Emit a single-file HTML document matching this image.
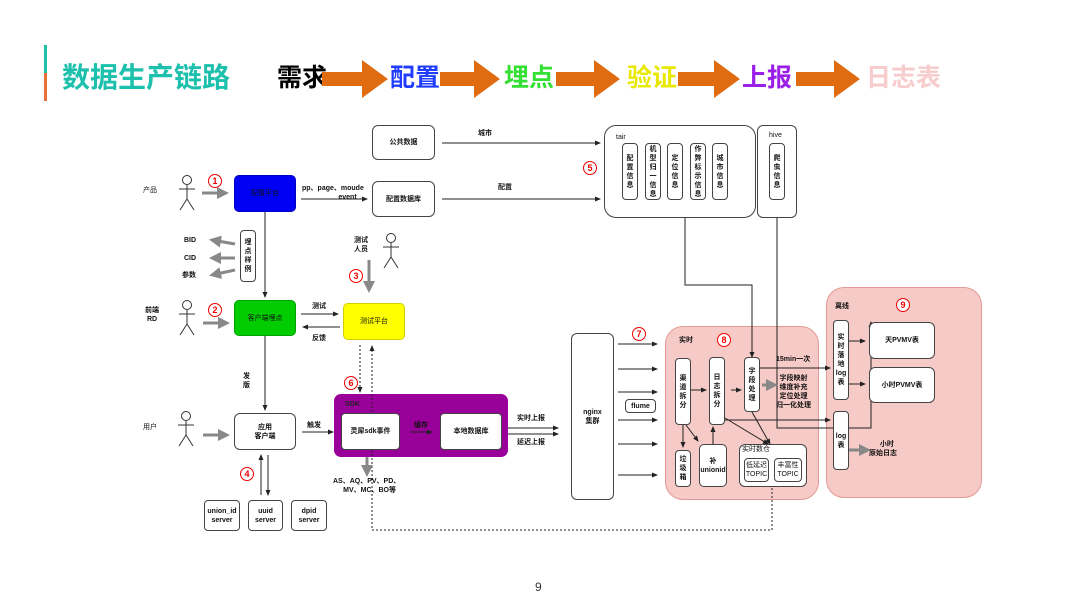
<!DOCTYPE html>
<html><head><meta charset="utf-8"><style>
body{margin:0;width:1080px;height:608px;background:#fff;position:relative;overflow:hidden;font-family:"Liberation Sans","Noto Sans CJK SC",sans-serif;}
.a{position:absolute}
.b{position:absolute;border:1px solid #444;border-radius:4px;background:#fff;display:flex;align-items:center;justify-content:center;text-align:center;font-size:7px;line-height:9px;color:#111;box-sizing:border-box;font-weight:bold}
.v{flex-direction:column;padding:0 1px}
.t{position:absolute;font-size:7px;line-height:9px;color:#111;font-weight:bold;text-align:center;white-space:nowrap}
.n{position:absolute;width:12px;height:12px;border:1.5px solid #e00;border-radius:50%;color:#e00;font-size:9px;line-height:12px;text-align:center;font-weight:bold;box-sizing:content-box;background:#fff}
.h{position:absolute;top:60px;font-size:25px;line-height:36px;font-weight:bold}
</style></head><body>
<div class="a" style="left:44px;top:45px;width:3px;height:28px;background:#1cc0a8"></div>
<div class="a" style="left:44px;top:73px;width:3px;height:28px;background:#e8713a"></div>
<div class="h" style="left:62px;color:#1cc0ac;font-size:28px">数据生产链路</div>
<div class="h" style="left:277px;color:#000">需求</div>
<div class="h" style="left:390px;color:#1f3cff">配置</div>
<div class="h" style="left:504px;color:#33e033">埋点</div>
<div class="h" style="left:627px;color:#e8e800">验证</div>
<div class="h" style="left:742px;color:#9b1fe8">上报</div>
<div class="h" style="left:866px;color:#f6cccc">日志表</div>
<div class="a" style="left:665px;top:326px;width:154px;height:174px;background:#f6cac6;border:1px solid #e49a94;border-radius:18px;box-sizing:border-box"></div>
<div class="a" style="left:826px;top:287px;width:156px;height:211px;background:#f6cac6;border:1px solid #e49a94;border-radius:18px;box-sizing:border-box"></div>
<div class="a" style="left:334px;top:394px;width:174px;height:63px;background:#990099;border-radius:7px"></div>
<svg class="a" style="left:0;top:0" width="1080" height="608">
<defs>
<marker id="m" markerWidth="6" markerHeight="6" refX="5" refY="3" orient="auto"><path d="M0,0.5 L6,3 L0,5.5z" fill="#222"/></marker>
<marker id="g" markerWidth="4" markerHeight="4" refX="3" refY="2" orient="auto"><path d="M0,0 L4,2 L0,4z" fill="#888"/></marker>
</defs>
<g fill="#e06c12">
<path d="M322,72h40v-12l26,19l-26,19v-12h-40z"/>
<path d="M440,72h34v-12l26,19l-26,19v-12h-34z"/>
<path d="M556,72h38v-12l26,19l-26,19v-12h-38z"/>
<path d="M678,72h36v-12l26,19l-26,19v-12h-36z"/>
<path d="M796,72h38v-12l26,19l-26,19v-12h-38z"/>
</g>
<g stroke="#222" stroke-width="1" fill="none" marker-end="url(#m)">
<path d="M442,143H600"/><path d="M442,199H600"/><path d="M301,199H367"/>
<path d="M265,212V297"/><path d="M265,336V410"/>
<path d="M301,314H338"/><path d="M340,327H303"/>
<path d="M302,432H333"/><path d="M410,432H432"/>
<path d="M508,428H558"/><path d="M508,434H558"/>
<path d="M261,495V455"/><path d="M268,455V495"/>
<path d="M685,218V285H752V357"/><path d="M777,218V428H871V322"/>
<path d="M618,344H657"/><path d="M618,369H657"/><path d="M618,392H657"/><path d="M618,420H657"/><path d="M618,444H657"/><path d="M618,475H657"/>
<path d="M690,390H706"/><path d="M731,390H741"/>
<path d="M683,425V447"/><path d="M686,425L698,441"/><path d="M713,444V427"/>
<path d="M725,420H830"/><path d="M760,368H830"/>
<path d="M725,418L768,444"/><path d="M752,412L770,444"/>
<path d="M848,341H865"/><path d="M848,384H865"/>
</g>
<g stroke="#222" stroke-dasharray="2,2" fill="none" stroke-width="1">
<path d="M360,345V392" marker-end="url(#m)"/>
<path d="M772,488V530H372V346" marker-end="url(#m)"/>
</g>
<g stroke="#888" stroke-width="3" fill="none" marker-end="url(#g)">
<path d="M202,193H226"/><path d="M203,323H227"/><path d="M203,435H227"/>
<path d="M235,244L212,240"/><path d="M235,258H212"/><path d="M235,270L212,275"/>
<path d="M369,260V290"/><path d="M367,457V474"/>
<path d="M762,385H775"/><path d="M848,450H868"/>
</g>
<g stroke="#333" stroke-width="1" fill="#fff">
<g transform="translate(187,175)"><circle cx="0" cy="5" r="4.5"/><path d="M0,10V24M-8,14H8M0,24L-7,35M0,24L7,35"/></g>
<g transform="translate(187,300)"><circle cx="0" cy="5" r="4.5"/><path d="M0,10V24M-8,14H8M0,24L-7,35M0,24L7,35"/></g>
<g transform="translate(186,411)"><circle cx="0" cy="5" r="4.5"/><path d="M0,10V24M-8,14H8M0,24L-7,35M0,24L7,35"/></g>
<g transform="translate(391,233)"><circle cx="0" cy="5" r="4.5"/><path d="M0,10V24M-8,14H8M0,24L-7,35M0,24L7,35"/></g>
</g>
</svg>
<div class="b" style="left:604px;top:125px;width:152px;height:93px;border-radius:12px"></div>
<div class="b" style="left:757px;top:125px;width:40px;height:93px;border-radius:6px"></div>
<div class="t" style="left:616px;top:133px;font-weight:normal">tair</div>
<div class="t" style="left:769px;top:131px;font-weight:normal">hive</div>
<div class="b v" style="left:622px;top:143px;width:16px;height:57px">配<br>置<br>信<br>息</div>
<div class="b v" style="left:645px;top:143px;width:16px;height:57px">机<br>型<br>归<br>一<br>信<br>息</div>
<div class="b v" style="left:667px;top:143px;width:16px;height:57px">定<br>位<br>信<br>息</div>
<div class="b v" style="left:690px;top:143px;width:16px;height:57px">作<br>弊<br>标<br>示<br>信<br>息</div>
<div class="b v" style="left:712px;top:143px;width:16px;height:57px">城<br>市<br>信<br>息</div>
<div class="b v" style="left:769px;top:143px;width:16px;height:57px">爬<br>虫<br>信<br>息</div>
<div class="b" style="left:372px;top:125px;width:63px;height:35px;border-radius:6px">公共数据</div>
<div class="b" style="left:372px;top:181px;width:63px;height:36px;border-radius:6px">配置数据库</div>
<div class="t" style="left:478px;top:129px">城市</div>
<div class="t" style="left:498px;top:183px">配置</div>
<div class="t" style="left:302px;top:184px">pp、page、moude<br>&nbsp;&nbsp;&nbsp;&nbsp;&nbsp;&nbsp;&nbsp;&nbsp;&nbsp;&nbsp;&nbsp;&nbsp;&nbsp;&nbsp;&nbsp;event</div>
<div class="b" style="left:234px;top:175px;width:62px;height:37px;background:#0000f5;border-color:#0000c0;border-radius:5px;font-weight:normal">配置平台</div>
<div class="b" style="left:234px;top:300px;width:62px;height:36px;background:#00cc00;border-color:#00a000;border-radius:5px;font-weight:normal">客户端埋点</div>
<div class="b" style="left:343px;top:303px;width:62px;height:37px;background:#ffff00;border-color:#d0d000;border-radius:5px;font-weight:normal">测试平台</div>
<div class="b v" style="left:240px;top:230px;width:16px;height:52px">埋<br>点<br>样<br>例</div>
<div class="t" style="left:143px;top:186px;font-weight:normal">产品</div>
<div class="t" style="left:145px;top:306px">前端<br>RD</div>
<div class="t" style="left:143px;top:423px;font-weight:normal">用户</div>
<div class="t" style="left:184px;top:236px">BID</div>
<div class="t" style="left:184px;top:254px">CID</div>
<div class="t" style="left:182px;top:271px">参数</div>
<div class="t" style="left:354px;top:236px">测试<br>人员</div>
<div class="t" style="left:312px;top:302px">测试</div>
<div class="t" style="left:312px;top:334px">反馈</div>
<div class="t" style="left:243px;top:372px">发<br>版</div>
<div class="t" style="left:307px;top:421px">触发</div>
<div class="n" style="left:208px;top:174px">1</div>
<div class="n" style="left:208px;top:303px">2</div>
<div class="n" style="left:349px;top:269px">3</div>
<div class="n" style="left:240px;top:467px">4</div>
<div class="n" style="left:583px;top:161px">5</div>
<div class="n" style="left:344px;top:376px">6</div>
<div class="n" style="left:632px;top:327px">7</div>
<div class="n" style="left:717px;top:333px">8</div>
<div class="n" style="left:896px;top:298px">9</div>
<div class="b" style="left:234px;top:413px;width:62px;height:37px;border-radius:6px">应用<br>客户端</div>
<div class="b" style="left:204px;top:500px;width:36px;height:31px">union_id<br>server</div>
<div class="b" style="left:248px;top:500px;width:35px;height:31px">uuid<br>server</div>
<div class="b" style="left:291px;top:500px;width:36px;height:31px">dpid<br>server</div>
<div class="t" style="left:345px;top:400px;color:#222">SDK</div>
<div class="b" style="left:341px;top:413px;width:59px;height:37px">灵犀sdk事件</div>
<div class="t" style="left:414px;top:421px">缓存</div>
<div class="b" style="left:440px;top:413px;width:62px;height:37px">本地数据库</div>
<div class="t" style="left:333px;top:477px">AS、AQ、PV、PD、<br>&nbsp;&nbsp;&nbsp;MV、MC、BO等</div>
<div class="t" style="left:517px;top:414px">实时上报</div>
<div class="t" style="left:517px;top:438px">延迟上报</div>
<div class="b" style="left:571px;top:333px;width:43px;height:167px;border-radius:6px">nginx<br>集群</div>
<div class="b" style="left:625px;top:399px;width:31px;height:14px">flume</div>
<div class="t" style="left:679px;top:336px">实时</div>
<div class="b v" style="left:675px;top:358px;width:16px;height:67px">渠<br>道<br>拆<br>分</div>
<div class="b v" style="left:709px;top:357px;width:16px;height:68px">日<br>志<br>拆<br>分</div>
<div class="b v" style="left:744px;top:357px;width:16px;height:55px">字<br>段<br>处<br>理</div>
<div class="b v" style="left:675px;top:450px;width:16px;height:37px">垃<br>圾<br>箱</div>
<div class="b" style="left:699px;top:444px;width:28px;height:43px;border-radius:5px">补<br>unionid</div>
<div class="b" style="left:739px;top:444px;width:68px;height:43px;border-radius:6px"></div>
<div class="t" style="left:742px;top:445px;font-weight:normal">实时数仓</div>
<div class="b" style="left:744px;top:458px;width:25px;height:24px;font-weight:normal">低延迟<br>TOPIC</div>
<div class="b" style="left:774px;top:458px;width:28px;height:24px;font-weight:normal">丰富性<br>TOPIC</div>
<div class="t" style="left:776px;top:355px">15min一次</div>
<div class="t" style="left:776px;top:374px">字段映射<br>维度补充<br>定位处理<br>归一化处理</div>
<div class="t" style="left:835px;top:302px">离线</div>
<div class="b v" style="left:833px;top:320px;width:16px;height:80px">实<br>时<br>落<br>地<br>log<br>表</div>
<div class="b v" style="left:833px;top:411px;width:16px;height:59px">log<br>表</div>
<div class="b" style="left:869px;top:322px;width:66px;height:37px;border-radius:6px">天PVMV表</div>
<div class="b" style="left:869px;top:367px;width:66px;height:36px;border-radius:6px">小时PVMV表</div>
<div class="t" style="left:869px;top:440px">&nbsp;&nbsp;&nbsp;&nbsp;小时<br>原始日志</div>
<div class="a" style="left:535px;top:580px;font-size:12px;color:#333">9</div>
</body></html>
